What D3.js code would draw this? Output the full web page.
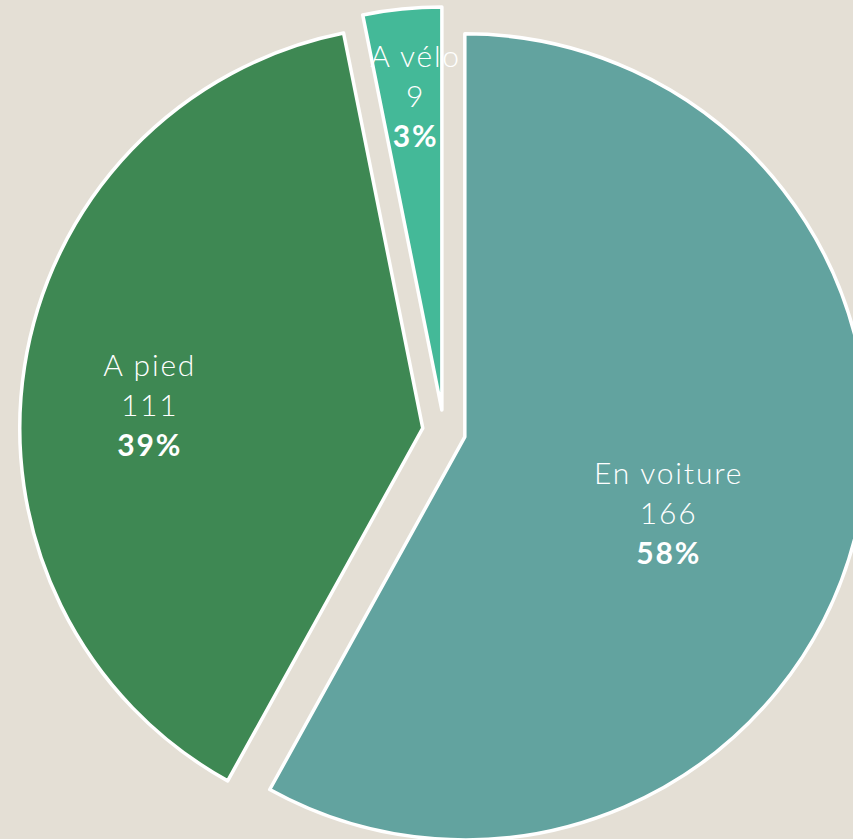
<!DOCTYPE html>
<html>
<head>
<meta charset="utf-8">
<script src="https://cdn.jsdelivr.net/npm/d3@7"></script>
<style>
  html, body { margin: 0; padding: 0; background: #e4dfd5; overflow: hidden; }
  svg { display: block; }
  text { font-family: "Lato", "Open Sans", sans-serif; fill: #fff; }
</style>
</head>
<body>
<svg id="chart" width="853" height="839"></svg>
<script>
// data
var categories = ["En voiture", "A pied", "A vélo"];
var counts = [166, 111, 9];
var colors = ["#62a39f", "#3e8853", "#44b998"];

var width = 853, height = 839;
var cx = 444, cy = 431.5, radius = 403, explode = 21.5;

// label spots inside each slice (angle in degrees clockwise from 12 o'clock, fraction of radius)
var labelSpot = [
  { a: 110.5, f: 0.54 },
  { a: 274.8, f: 0.68 },
  { a: 355.2, f: 0.78 }
];

var total = d3.sum(counts);

var rows = categories.map(function(c, i) {
  return { name: c, value: counts[i], color: colors[i], i: i };
});

var pie = d3.pie()
    .sort(null)
    .value(function(d) { return d.value; });

var arc = d3.arc()
    .innerRadius(0)
    .outerRadius(radius);

var svg = d3.select("#chart");

svg.append("rect")
    .attr("width", width)
    .attr("height", height)
    .attr("fill", "#e4dfd5");

var g = svg.append("g")
    .attr("transform", "translate(" + cx + "," + cy + ")");

var arcs = pie(rows);

// shift each slice outwards along its mid angle
function shift(d) {
  var mid = (d.startAngle + d.endAngle) / 2;
  return [Math.sin(mid) * explode, -Math.cos(mid) * explode];
}

g.selectAll("path.slice")
    .data(arcs)
  .enter().append("path")
    .attr("class", "slice")
    .attr("d", arc)
    .attr("transform", function(d) {
      var s = shift(d);
      return "translate(" + s[0] + "," + s[1] + ")";
    })
    .attr("fill", function(d) { return d.data.color; })
    .attr("stroke", "#fff")
    .attr("stroke-width", 3.5)
    .attr("stroke-linejoin", "round");

var lineH = 40;

var label = g.selectAll("g.label")
    .data(arcs)
  .enter().append("g")
    .attr("class", "label")
    .attr("transform", function(d) {
      var s = shift(d);
      var spot = labelSpot[d.data.i];
      var a = spot.a * Math.PI / 180;
      var r = radius * spot.f;
      return "translate(" + (s[0] + Math.sin(a) * r) + "," + (s[1] - Math.cos(a) * r) + ")";
    });

function addLine(sel, y, weight, fn) {
  sel.append("text")
      .attr("text-anchor", "middle")
      .attr("y", y)
      .attr("dy", "0.35em")
      .style("font-size", "30px")
      .style("letter-spacing", "1.8px")
      .style("font-weight", weight)
      .text(fn);
}

addLine(label, -lineH, 300, function(d) { return d.data.name; });
addLine(label, 0, 300, function(d) { return d.data.value; });
addLine(label, lineH, 700, function(d) { return Math.round(d.data.value / total * 100) + "%"; });
</script>
</body>
</html>
